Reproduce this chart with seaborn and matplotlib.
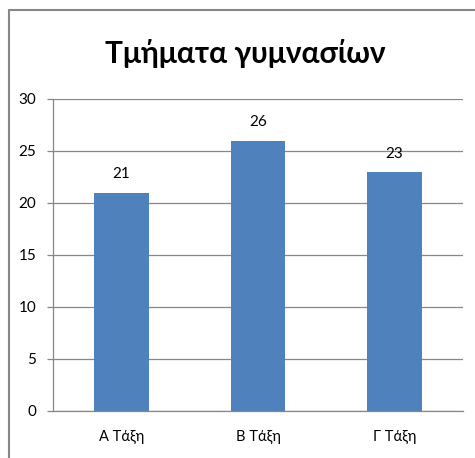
import matplotlib
matplotlib.use("Agg")

import matplotlib.pyplot as plt
import pandas as pd
import seaborn as sns
from matplotlib.lines import Line2D

# ── Data ──
classes = ["Α Τάξη", "Β Τάξη", "Γ Τάξη"]
sections = [21, 26, 23]
y_ticks = [0, 5, 10, 15, 20, 25, 30]
title = "Τμήματα γυμνασίων"

df = pd.DataFrame({"class": classes, "sections": sections})

sns.set_theme(style="white")
plt.rcParams["font.family"] = ["Lato", "DejaVu Sans"]

fig = plt.figure(figsize=(4.75, 4.58), dpi=100)
ax = fig.add_axes([53 / 475, 1 - 411 / 458, 410 / 475, 312 / 458])

sns.barplot(data=df, x="class", y="sections", color="#4F81BD", width=0.4,
            saturation=1, linewidth=0, ax=ax)

ax.set_ylim(0, 30)
ax.set_xlim(-0.5, len(classes) - 0.5)
ax.set_yticks(y_ticks)
ax.set_xlabel("")
ax.set_ylabel("")
ax.yaxis.grid(True, color="#878787", linewidth=0.9)
ax.set_axisbelow(True)

for side in ["top", "right"]:
    ax.spines[side].set_visible(False)
for side in ["left", "bottom"]:
    ax.spines[side].set_color("#878787")
    ax.spines[side].set_linewidth(0.9)

# category separators as minor ticks
ax.set_xticks([i - 0.5 for i in range(len(classes) + 1)], minor=True)
ax.tick_params(axis="x", which="major", length=0, pad=14, labelsize=10.5, colors="black")
ax.tick_params(axis="x", which="minor", length=4, width=0.9, color="#878787", direction="out")
ax.tick_params(axis="y", length=4, width=0.9, color="#878787", direction="out",
               left=True, pad=8, labelsize=11, labelcolor="black")

for c in ax.containers:
    ax.bar_label(c, padding=8, fontsize=11, color="black")

fig.text(245 / 475, 1 - 53 / 458, title, ha="center", va="center",
         fontsize=21.5, fontweight="bold", color="black")

# chart frame (top and left edges visible in the crop)
fig.add_artist(Line2D([9 / 475, 1.0], [1 - 10 / 458, 1 - 10 / 458],
                      transform=fig.transFigure, color="#878787", linewidth=1.5))
fig.add_artist(Line2D([9 / 475, 9 / 475], [0.0, 1 - 10 / 458],
                      transform=fig.transFigure, color="#878787", linewidth=1.5))

fig.savefig("out.png", dpi=100)
